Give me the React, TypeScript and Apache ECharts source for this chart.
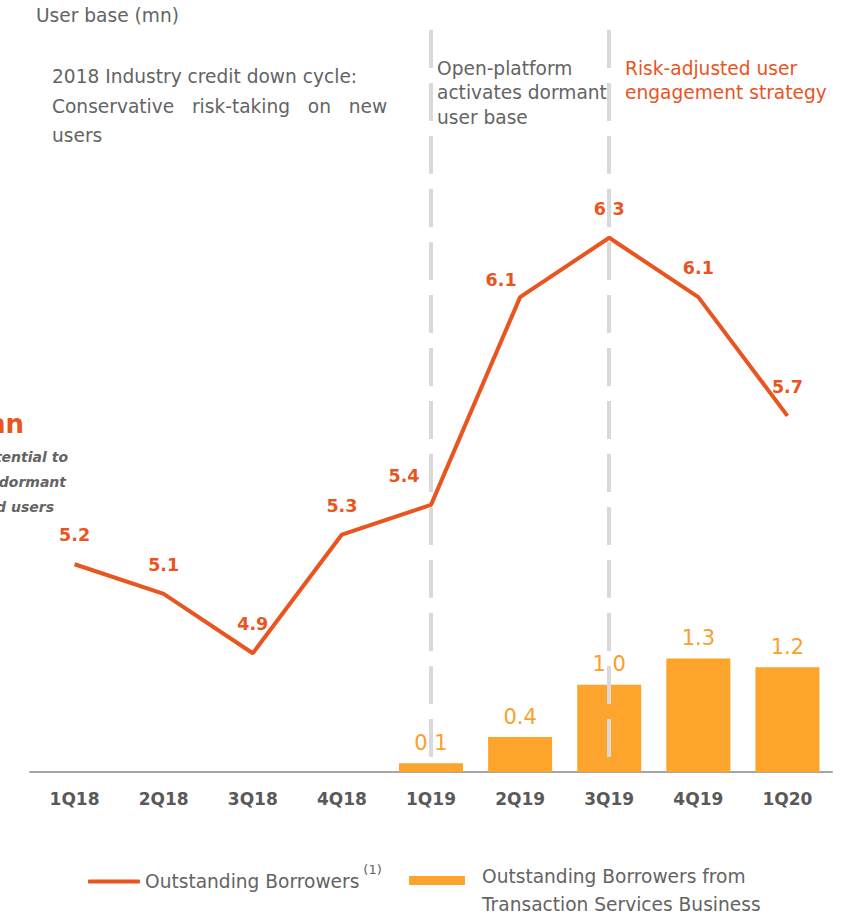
import React, { useEffect, useRef } from "react";
import * as echarts from "echarts";

const categories = ["1Q18", "2Q18", "3Q18", "4Q18", "1Q19", "2Q19", "3Q19", "4Q19", "1Q20"];
const outstandingBorrowers = [5.2, 5.1, 4.9, 5.3, 5.4, 6.1, 6.3, 6.1, 5.7];
const transactionBorrowers = [null, null, null, null, 0.1, 0.4, 1.0, 1.3, 1.2];
const dividerCategories = ["1Q19", "3Q19"];

const LINE_NAME = "Outstanding Borrowers";
const BAR_NAME = "Outstanding Borrowers from Transaction Services Business";

const RED = "#E9541F";
const AMBER = "#FCA42B";
const GRAY = "#646464";
const FONT = "'DejaVu Sans', sans-serif";
const TXT = 18.6;

export default function App() {
  const ref = useRef<HTMLDivElement>(null);
  useEffect(() => {
    if (!ref.current) return;
    const chart = echarts.init(ref.current, undefined, { renderer: "svg" });
    const lineLabelOffsets: Record<number, number[]> = { 4: [-27, 0], 5: [-19, 12] };
    chart.setOption({
      animation: false,
      textStyle: { fontFamily: FONT },
      grid: { left: 30, right: 12, top: 30, bottom: 144 },
      xAxis: {
        type: "category",
        data: categories,
        axisLine: { lineStyle: { color: "#A6A6A6", width: 2 } },
        axisTick: { show: false },
        axisLabel: { color: "#595959", fontWeight: "bold", fontSize: 17, margin: 18, fontFamily: FONT },
      },
      yAxis: [
        { type: "value", min: 4.5, max: 7.0, show: false },
        { type: "value", min: 0, max: 8.5, show: false },
      ],
      legend: [
        {
          data: [{ name: LINE_NAME, icon: "roundRect", itemStyle: { color: RED } }],
          left: 88,
          top: 863,
          padding: 0,
          itemWidth: 52,
          itemHeight: 4,
          itemGap: 0,
          formatter: (n: string) => n + "{sup|(1)}",
          textStyle: {
            color: GRAY,
            fontSize: TXT,
            fontFamily: FONT,
            rich: { sup: { fontSize: 13, color: GRAY, padding: [0, 0, 24, 4], fontFamily: FONT } },
          },
        },
        {
          data: [
            {
              name: BAR_NAME,
              icon: "path://M0,0h56v9h-56zM0,28h0.01",
            },
          ],
          left: 409,
          top: 862,
          padding: 0,
          itemWidth: 56,
          itemHeight: 28,
          formatter: () => "Outstanding Borrowers from\nTransaction Services Business",
          textStyle: { color: GRAY, fontSize: TXT, lineHeight: 28, fontFamily: FONT, padding: [0, 0, 0, 12] },
        },
      ],
      series: [
        {
          name: BAR_NAME,
          type: "bar",
          yAxisIndex: 1,
          data: transactionBorrowers,
          barWidth: 64,
          itemStyle: { color: AMBER },
          label: {
            show: true,
            position: "top",
            distance: 10,
            color: "#F9A12A",
            fontSize: 21,
            fontFamily: FONT,
            formatter: (p: any) => Number(p.value).toFixed(1),
          },
          markLine: {
            silent: true,
            symbol: "none",
            z: 10,
            label: { show: false },
            lineStyle: { color: "#D9D9D9", width: 4, type: [38, 15], dashOffset: 38 },
            data: dividerCategories.map((c) => ({ xAxis: c })),
          },
        },
        {
          name: LINE_NAME,
          type: "line",
          yAxisIndex: 0,
          symbol: "circle",
          symbolSize: 0.01,
          showSymbol: true,
          lineStyle: { color: RED, width: 4 },
          itemStyle: { color: RED },
          data: outstandingBorrowers.map((v, i) =>
            lineLabelOffsets[i] ? { value: v, label: { offset: lineLabelOffsets[i] } } : v
          ),
          label: {
            show: true,
            position: "top",
            distance: 20,
            color: RED,
            fontSize: 17.5,
            fontWeight: "bold",
            fontFamily: FONT,
            formatter: (p: any) => Number(p.value).toFixed(1),
          },
        },
      ],
      graphic: [
        { type: "text", left: 36, top: 6, style: { text: "User base (mn)", fill: GRAY, fontSize: TXT, fontFamily: FONT } },
        {
          type: "text",
          left: 52,
          top: 62,
          style: {
            text: "2018 Industry credit down cycle:\nConservative   risk-taking   on   new\nusers",
            fill: GRAY,
            fontSize: TXT,
            lineHeight: 29.5,
            fontFamily: FONT,
          },
        },
        {
          type: "text",
          left: 437,
          top: 56,
          style: {
            text: "Open-platform\nactivates dormant\nuser base",
            fill: GRAY,
            fontSize: TXT,
            lineHeight: 24.5,
            fontFamily: FONT,
          },
        },
        {
          type: "text",
          left: 625,
          top: 56,
          style: {
            text: "Risk-adjusted user\nengagement strategy",
            fill: RED,
            fontSize: TXT,
            lineHeight: 24.5,
            fontFamily: FONT,
          },
        },
        {
          type: "text",
          x: 24,
          y: 424,
          style: { text: "mn", fill: RED, fontSize: 26, fontWeight: "bold", fontFamily: FONT, align: "right", verticalAlign: "middle" },
        },
        {
          type: "text",
          x: 68,
          y: 457,
          style: { text: "tential to", fill: GRAY, fontSize: 14, fontWeight: "bold", fontStyle: "italic", fontFamily: FONT, align: "right", verticalAlign: "middle" },
        },
        {
          type: "text",
          x: 66,
          y: 482,
          style: { text: "dormant", fill: GRAY, fontSize: 14, fontWeight: "bold", fontStyle: "italic", fontFamily: FONT, align: "right", verticalAlign: "middle" },
        },
        {
          type: "text",
          x: 54,
          y: 507,
          style: { text: "d users", fill: GRAY, fontSize: 14, fontWeight: "bold", fontStyle: "italic", fontFamily: FONT, align: "right", verticalAlign: "middle" },
        },
      ],
    });
    return () => chart.dispose();
  }, []);
  return <div ref={ref} style={{ position: "absolute", left: 0, top: 0, width: 844, height: 916 }} />;
}
